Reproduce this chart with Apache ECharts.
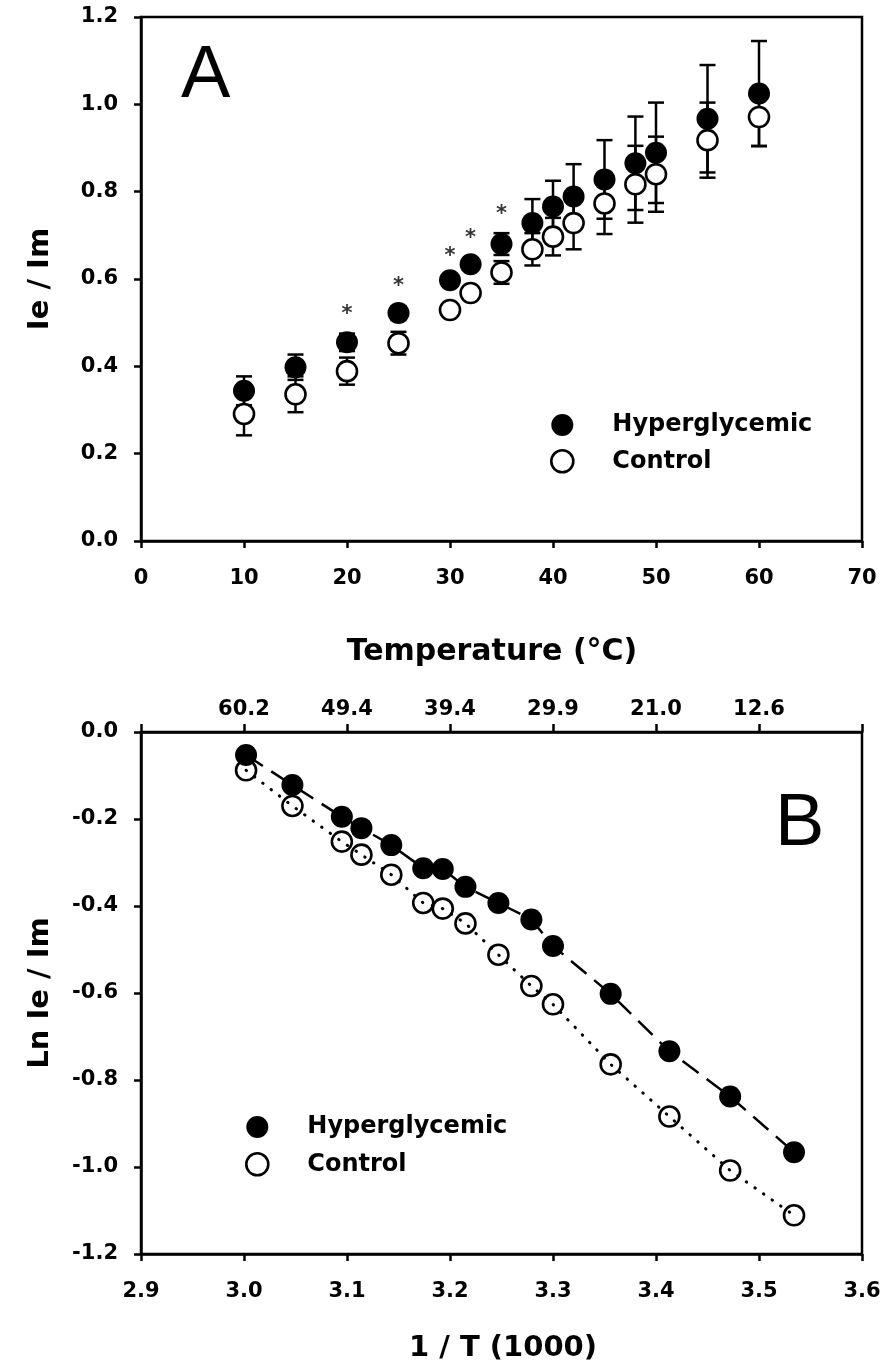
<!DOCTYPE html>
<html>
<head>
<meta charset="utf-8">
<script src="https://cdn.jsdelivr.net/npm/echarts@6/dist/echarts.min.js"></script>
<style>
  html, body { margin: 0; padding: 0; background: #fff; }
  #main { width: 891px; height: 1369px; }
</style>
</head>
<body>
<div id="main"></div>
<script>
// panel A: temperature (°C) vs Ie/Im, mean and error
var tempC = [10, 15, 20, 25, 30, 32, 35, 38, 40, 42, 45, 48, 50, 55, 60];
var hyperMean = [0.344, 0.398, 0.455, 0.522, 0.597, 0.634, 0.680, 0.728, 0.766, 0.789, 0.828, 0.865, 0.889, 0.967, 1.025];
var hyperErr = [0.033, 0.029, 0.020, 0.016, 0.012, 0.012, 0.025, 0.055, 0.059, 0.074, 0.090, 0.107, 0.115, 0.123, 0.120];
var ctrlMean = [0.291, 0.336, 0.389, 0.453, 0.529, 0.568, 0.615, 0.668, 0.697, 0.728, 0.773, 0.817, 0.840, 0.918, 0.971];
var ctrlErr = [0.049, 0.041, 0.031, 0.026, 0.012, 0.012, 0.026, 0.037, 0.043, 0.060, 0.070, 0.088, 0.086, 0.086, 0.067];
// significance marks
var starTemp = [20, 25, 30, 32, 35];
var starY = [0.529, 0.594, 0.664, 0.705, 0.758];

// panel B: 1/T (1000) vs Ln Ie/Im
var invT = [3.002, 3.047, 3.095, 3.114, 3.143, 3.174, 3.193, 3.215, 3.247, 3.279, 3.300, 3.356, 3.413, 3.472, 3.534];
var lnHyper = [-0.053, -0.122, -0.195, -0.221, -0.260, -0.313, -0.315, -0.356, -0.393, -0.431, -0.492, -0.602, -0.734, -0.838, -0.966];
var lnCtrl = [-0.088, -0.170, -0.252, -0.282, -0.328, -0.393, -0.406, -0.440, -0.512, -0.584, -0.626, -0.764, -0.884, -1.008, -1.111];
// top axis of B (°C)
var topLabels = ['', '60.2', '49.4', '39.4', '29.9', '21.0', '12.6', ''];

var FONT = 'DejaVu Sans';
var chart = echarts.init(document.getElementById('main'), null, {renderer: 'canvas'});

function fmt1(v) {
    if (Math.abs(v) < 1e-9) return '0.0';
    return v.toFixed(1);
}

var lineBlack = {show: true, onZero: false, lineStyle: {color: '#000', width: 2.5}};
var tickOut = {show: true, inside: false, length: 7, lineStyle: {color: '#000', width: 2.5}};
function lbl(margin, formatter) {
    return {color: '#000', fontFamily: FONT, fontWeight: 'bold', fontSize: 21, margin: margin, formatter: formatter};
}

function errRender(params, api) {
    var x = api.value(0);
    var pLo = api.coord([x, api.value(1)]);
    var pHi = api.coord([x, api.value(2)]);
    var w = 8;
    var st = {stroke: '#000', lineWidth: 2.5};
    return {
        type: 'group',
        children: [
            {type: 'line', shape: {x1: pLo[0], y1: pLo[1], x2: pHi[0], y2: pHi[1]}, style: st},
            {type: 'line', shape: {x1: pLo[0] - w, y1: pLo[1], x2: pLo[0] + w, y2: pLo[1]}, style: st},
            {type: 'line', shape: {x1: pHi[0] - w, y1: pHi[1], x2: pHi[0] + w, y2: pHi[1]}, style: st}
        ]
    };
}

var hyperBars = tempC.map(function (t, i) { return [t, hyperMean[i] - hyperErr[i], hyperMean[i] + hyperErr[i]]; });
var ctrlBars = tempC.map(function (t, i) { return [t, ctrlMean[i] - ctrlErr[i], ctrlMean[i] + ctrlErr[i]]; });

var filled = {color: '#000', opacity: 1};
var open = {color: '#fff', borderColor: '#000', borderWidth: 2.6, opacity: 1};

function legendAt(left, top, gap) {
    return {
        orient: 'vertical', left: left, top: top,
        itemWidth: 22, itemHeight: 22, itemGap: gap,
        icon: 'circle', selectedMode: false,
        textStyle: {color: '#000', fontFamily: FONT, fontWeight: 'bold', fontSize: 24, padding: [0, 0, 0, 34]},
        data: [
            {name: 'Hyperglycemic', itemStyle: filled},
            {name: 'Control', itemStyle: open}
        ]
    };
}

var option = {
    animation: false,
    backgroundColor: '#fff',
    grid: [
        {left: 141, top: 17, width: 721, height: 524, show: true, borderColor: '#000', borderWidth: 2.5},
        {left: 141, top: 732, width: 721, height: 522, show: true, borderColor: '#000', borderWidth: 2.5}
    ],
    xAxis: [
        {gridIndex: 0, type: 'value', min: 0, max: 70, interval: 10, position: 'bottom',
            axisLine: lineBlack, axisTick: tickOut, splitLine: {show: false},
            axisLabel: lbl(27, function (v) { return String(v); })},
        {gridIndex: 1, type: 'value', min: 2.9, max: 3.6, interval: 0.1, position: 'bottom',
            axisLine: lineBlack, axisTick: tickOut, splitLine: {show: false},
            axisLabel: lbl(27, fmt1)},
        {gridIndex: 1, type: 'value', min: 2.9, max: 3.6, interval: 0.1, position: 'top',
            axisLine: lineBlack, axisTick: {show: true, inside: false, length: 8, lineStyle: {color: '#000', width: 2.5}},
            splitLine: {show: false},
            axisLabel: lbl(12, function (v) { return topLabels[Math.round((v - 2.9) / 0.1)] || ''; })}
    ],
    yAxis: [
        {gridIndex: 0, type: 'value', min: 0, max: 1.2, interval: 0.2,
            axisLine: lineBlack, axisTick: tickOut, splitLine: {show: false},
            axisLabel: lbl(23, fmt1)},
        {gridIndex: 1, type: 'value', min: -1.2, max: 0, interval: 0.2,
            axisLine: lineBlack, axisTick: tickOut, splitLine: {show: false},
            axisLabel: lbl(23, fmt1)}
    ],
    legend: [legendAt(545, 408, 12), legendAt(240, 1110, 13)],
    graphic: [
        {type: 'text', x: 181, y: 77, style: {text: 'A', fontFamily: 'Liberation Sans', fontSize: 74, fill: '#000', align: 'left', verticalAlign: 'middle'}},
        {type: 'text', x: 775, y: 825, style: {text: 'B', fontFamily: 'Liberation Sans', fontSize: 74, fill: '#000', align: 'left', verticalAlign: 'middle'}},
        {type: 'text', x: 492, y: 652, style: {text: 'Temperature (°C)', fontFamily: FONT, fontWeight: 'bold', fontSize: 30, fill: '#000', align: 'center', verticalAlign: 'middle'}},
        {type: 'text', x: 503, y: 1348, style: {text: '1 / T (1000)', fontFamily: FONT, fontWeight: 'bold', fontSize: 29, fill: '#000', align: 'center', verticalAlign: 'middle'}},
        {type: 'text', x: 40, y: 279, rotation: Math.PI / 2, style: {text: 'Ie / Im', fontFamily: FONT, fontWeight: 'bold', fontSize: 29, fill: '#000', align: 'center', verticalAlign: 'middle'}},
        {type: 'text', x: 40, y: 993, rotation: Math.PI / 2, style: {text: 'Ln Ie / Im', fontFamily: FONT, fontWeight: 'bold', fontSize: 29, fill: '#000', align: 'center', verticalAlign: 'middle'}}
    ],
    series: [
        {type: 'custom', name: 'hyperErr', xAxisIndex: 0, yAxisIndex: 0, z: 1,
            renderItem: errRender, encode: {x: 0, y: [1, 2]}, data: hyperBars},
        {type: 'custom', name: 'ctrlErr', xAxisIndex: 0, yAxisIndex: 0, z: 1,
            renderItem: errRender, encode: {x: 0, y: [1, 2]}, data: ctrlBars},
        {type: 'scatter', name: 'Control', xAxisIndex: 0, yAxisIndex: 0, z: 2,
            symbol: 'circle', symbolSize: 20, itemStyle: open,
            data: tempC.map(function (t, i) { return [t, ctrlMean[i]]; })},
        {type: 'scatter', name: 'Hyperglycemic', xAxisIndex: 0, yAxisIndex: 0, z: 3,
            symbol: 'circle', symbolSize: 22, itemStyle: filled,
            data: tempC.map(function (t, i) { return [t, hyperMean[i]]; })},
        {type: 'scatter', name: 'stars', xAxisIndex: 0, yAxisIndex: 0, z: 4,
            symbol: 'circle', symbolSize: 0.1, itemStyle: {color: 'rgba(0,0,0,0)'},
            label: {show: true, position: 'inside', formatter: '*', color: '#000', fontFamily: FONT, fontWeight: 'bold', fontSize: 21, offset: [0, 5]},
            data: starTemp.map(function (t, i) { return [t, starY[i]]; })},

        {type: 'line', name: 'hyperLine', xAxisIndex: 1, yAxisIndex: 1, z: 1,
            showSymbol: false, symbol: 'none',
            lineStyle: {color: '#000', width: 2.5, type: [20, 10]},
            data: invT.map(function (x, i) { return [x, lnHyper[i]]; })},
        {type: 'scatter', name: 'Control', xAxisIndex: 1, yAxisIndex: 1, z: 2,
            symbol: 'circle', symbolSize: 20, itemStyle: open,
            data: invT.map(function (x, i) { return [x, lnCtrl[i]]; })},
        {type: 'scatter', name: 'Hyperglycemic', xAxisIndex: 1, yAxisIndex: 1, z: 3,
            symbol: 'circle', symbolSize: 22, itemStyle: filled,
            data: invT.map(function (x, i) { return [x, lnHyper[i]]; })},
        {type: 'line', name: 'ctrlLine', xAxisIndex: 1, yAxisIndex: 1, z: 4,
            showSymbol: false, symbol: 'none',
            lineStyle: {color: '#000', width: 3, type: [0.5, 10], cap: 'round'},
            data: invT.map(function (x, i) { return [x, lnCtrl[i]]; })}
    ]
};
chart.setOption(option);
</script>
</body>
</html>
